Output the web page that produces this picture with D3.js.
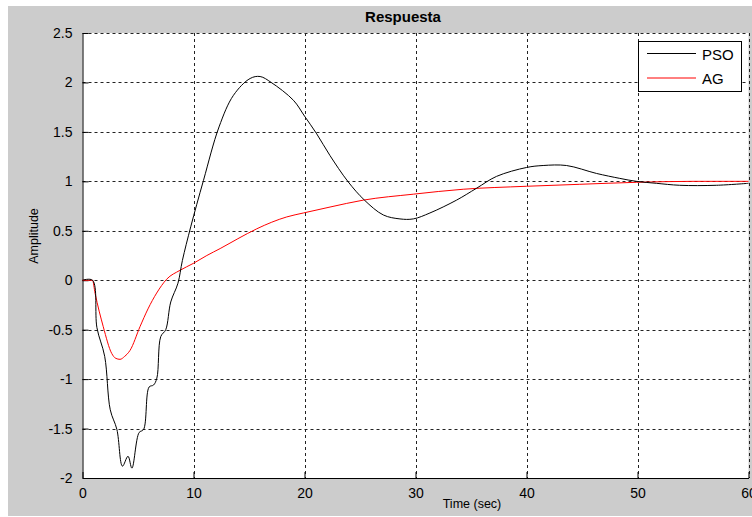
<!DOCTYPE html>
<html>
<head>
<meta charset="utf-8">
<script src="https://cdn.jsdelivr.net/npm/d3@7"></script>
<style>
  body { margin: 0; background: #fff; }
  svg { display: block; font-family: "Liberation Sans", Arial, sans-serif; }
</style>
</head>
<body>
<svg width="752" height="517"></svg>
<script>
const width = 752
const height = 517

// data
const psoT = [0, 0.9, 1.3, 2.0, 2.5, 3.1, 3.6, 4.1, 4.45, 5.1, 5.5, 6.0, 6.4, 6.7, 7.05, 7.5, 7.95, 8.6, 9.0, 9.75, 10.9, 12.3, 13.6, 15.1, 16.0, 17.0, 19.0, 20.0, 21.1, 22.3, 23.9, 25.4, 27.1, 28.6, 29.8, 31.3, 33.7, 35.5, 37.3, 40.0, 41.5, 43.6, 46.3, 48.4, 49.9, 51.7, 53.8, 57.1, 60]
const psoY = [0, 0, -0.48, -0.77, -1.31, -1.51, -1.88, -1.78, -1.90, -1.54, -1.51, -1.08, -1.06, -0.99, -0.57, -0.50, -0.22, -0.03, 0.20, 0.54, 1.01, 1.55, 1.87, 2.04, 2.06, 2.00, 1.82, 1.66, 1.48, 1.26, 1.00, 0.81, 0.66, 0.62, 0.62, 0.68, 0.81, 0.93, 1.05, 1.14, 1.16, 1.16, 1.08, 1.03, 1.00, 0.98, 0.96, 0.96, 0.98]
const agT = [0, 0.9, 1.13, 1.87, 2.63, 3.0, 3.38, 3.8, 4.28, 5.18, 5.9, 6.68, 7.58, 8.78, 9.98, 11.2, 12.4, 14.0, 15.7, 18.4, 19.9, 22.3, 25.3, 29.8, 34.3, 40, 44.8, 49.9, 55, 60]
const agY = [0, 0, -0.13, -0.47, -0.74, -0.79, -0.80, -0.77, -0.71, -0.47, -0.29, -0.13, 0.01, 0.10, 0.17, 0.25, 0.32, 0.42, 0.52, 0.64, 0.68, 0.74, 0.81, 0.87, 0.92, 0.95, 0.97, 0.99, 1.0, 1.0]

const xTicks = [0, 10, 20, 30, 40, 50, 60]
const yTicks = [-2, -1.5, -1, -0.5, 0, 0.5, 1, 1.5, 2, 2.5]
const seriesNames = ["PSO", "AG"]
const seriesColors = ["#000000", "#ff0000"]

const svg = d3.select("svg")

// figure background
svg.append("rect").attr("width", width).attr("height", height).attr("fill", "#fff")
svg.append("rect")
  .attr("x", 8).attr("y", 6)
  .attr("width", width - 8).attr("height", 510)
  .attr("fill", "#cccccc")

const plotL = 82.5, plotR = 748.5, plotT = 33, plotB = 478

const x = d3.scaleLinear().domain([0, 60]).range([plotL, plotR])
const y = d3.scaleLinear().domain([-2, 2.5]).range([plotB, plotT])

svg.append("rect")
  .attr("x", plotL).attr("y", plotT)
  .attr("width", plotR - plotL).attr("height", plotB - plotT)
  .attr("fill", "#fff")

// grid
const grid = svg.append("g")
  .attr("stroke", "#222")
  .attr("stroke-width", 1)
  .attr("stroke-dasharray", "3,3")
grid.selectAll(".gx")
  .data(xTicks.filter(d => d > 0))
  .enter().append("line")
  .attr("x1", d => Math.round(x(d)) + 0.5).attr("x2", d => Math.round(x(d)) + 0.5)
  .attr("y1", plotT).attr("y2", plotB)
grid.selectAll(".gy")
  .data(yTicks.filter(d => d > -2))
  .enter().append("line")
  .attr("y1", d => Math.round(y(d)) + 0.5).attr("y2", d => Math.round(y(d)) + 0.5)
  .attr("x1", plotL).attr("x2", plotR)

// axes (ticks inside)
svg.append("g")
  .attr("transform", "translate(0," + plotB + ")")
  .call(d3.axisBottom(x).tickValues(xTicks).tickSizeInner(-6).tickSizeOuter(0).tickPadding(10).tickFormat(d3.format("d")))
svg.append("g")
  .attr("transform", "translate(" + plotL + ",0)")
  .call(d3.axisLeft(y).tickValues(yTicks).tickSizeInner(-6).tickSizeOuter(0).tickPadding(10).tickFormat(d => String(d)))

svg.selectAll(".domain").attr("stroke", "#000")
svg.selectAll(".tick line").attr("stroke", "#000")
svg.selectAll(".tick text")
  .attr("fill", "#000")
  .style("font-size", "14px")
  .style("font-family", "\"Liberation Sans\", Arial, sans-serif")

// lines
const psoData = psoT.map((t, i) => [t, psoY[i]])
const agData = agT.map((t, i) => [t, agY[i]])

svg.append("path")
  .datum(agData)
  .attr("fill", "none")
  .attr("stroke", seriesColors[1])
  .attr("stroke-width", 1)
  .attr("d", d3.line().x(d => x(d[0])).y(d => y(d[1])).curve(d3.curveMonotoneX))

svg.append("path")
  .datum(psoData)
  .attr("fill", "none")
  .attr("stroke", seriesColors[0])
  .attr("stroke-width", 1)
  .attr("d", d3.line().x(d => x(d[0])).y(d => y(d[1])).curve(d3.curveCatmullRom.alpha(0.5)))

// title and labels
svg.append("text")
  .attr("x", 403).attr("y", 22)
  .attr("text-anchor", "middle")
  .style("font-size", "15px")
  .style("font-weight", "bold")
  .text("Respuesta")

svg.append("text")
  .attr("x", 472).attr("y", 508)
  .attr("text-anchor", "middle")
  .style("font-size", "12.5px")
  .text("Time (sec)")

svg.append("text")
  .attr("transform", "translate(38,236) rotate(-90)")
  .attr("text-anchor", "middle")
  .style("font-size", "12.5px")
  .text("Amplitude")

// legend
const legend = svg.append("g").attr("id", "legend")
legend.append("rect")
  .attr("x", 638.5).attr("y", 41.5)
  .attr("width", 103).attr("height", 50)
  .attr("fill", "#fff").attr("stroke", "#000")

const legenditem = legend.selectAll(".legenditem")
  .data(seriesNames)
  .enter().append("g")
  .attr("class", "legenditem")
  .attr("transform", (d, i) => "translate(0," + (53.5 + i * 24.5) + ")")
legenditem.append("line")
  .attr("x1", 647).attr("x2", 696)
  .attr("stroke", (d, i) => seriesColors[i])
legenditem.append("text")
  .attr("x", 702).attr("y", 6)
  .style("font-size", "15px")
  .text(d => d)
</script>
</body>
</html>
